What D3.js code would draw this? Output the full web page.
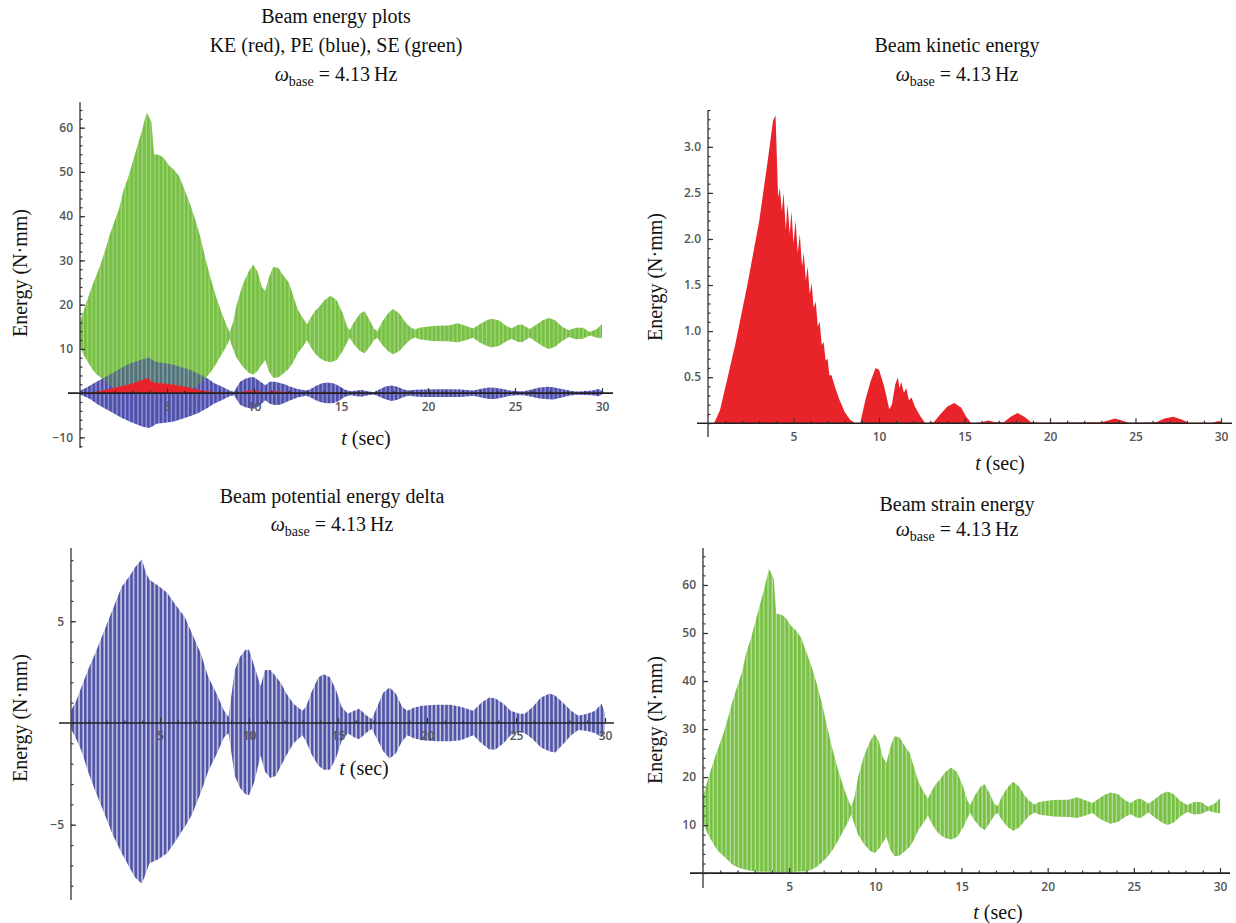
<!DOCTYPE html>
<html>
<head>
<meta charset="utf-8">
<script src="https://cdn.jsdelivr.net/npm/d3@7/dist/d3.min.js"></script>
<style>
body { margin: 0; background: #fff; }
svg text { font-family: "Liberation Serif", "DejaVu Serif", serif; fill: #111; }
.tick text { font-family: "Open Sans", "DejaVu Sans", sans-serif; font-size: 12px; font-weight: 600; fill: #555; }
</style>
</head>
<body>
<div id="chart"></div>
<script>
// strain energy envelope (upper / lower edge of the oscillation band), N.mm
var seTime  = [0, 0.23, 0.46, 0.7, 0.9, 1.2, 1.5, 1.7, 2.0, 2.25, 2.5, 2.75, 3.0, 3.25, 3.55, 3.83, 4.1, 4.25, 4.55, 4.8, 5.1, 5.4, 5.7, 6.0, 6.3, 6.6, 6.9, 7.2, 7.5, 7.8, 8.1, 8.4, 8.6, 8.8, 9.0, 9.35, 9.7, 9.95, 10.2, 10.45, 10.65, 10.85, 11.1, 11.4, 11.7, 12.0, 12.25, 12.5, 12.8, 13.05, 13.25, 13.5, 13.75, 14.05, 14.4, 14.75, 15.1, 15.35, 15.5, 15.75, 16.1, 16.35, 16.65, 16.9, 17.1, 17.35, 17.7, 18.0, 18.35, 18.7, 18.95, 19.25, 19.5, 20.3, 21.2, 21.7, 22.1, 22.6, 22.95, 23.3, 23.65, 24.1, 24.45, 24.8, 25.15, 25.4, 25.85, 26.25, 26.6, 26.95, 27.3, 27.7, 28.1, 28.5, 28.9, 29.3, 29.7, 30.0];
var seUpper = [16.0, 18.8, 21.5, 24.2, 26.2, 29.3, 33, 35.7, 39, 41.7, 45.8, 48.5, 51.8, 55.2, 59.2, 63.4, 61.4, 54, 53.8, 53.2, 51.5, 50.5, 49, 46, 43, 39.5, 35.5, 30.5, 26, 22, 18.5, 15.5, 13.8, 16, 20, 24.5, 27.5, 29, 27.5, 24, 23, 26, 28.5, 28.3, 26.5, 25, 22, 19, 17, 15.5, 17, 18.5, 19.5, 21, 22, 21, 18, 15, 14.2, 16, 18, 18.5, 16.5, 14.5, 14, 16, 18, 19, 18, 16, 15, 14.3, 14.8, 15.2, 15.3, 15.8, 15.3, 14.6, 15.5, 16.3, 16.8, 16.4, 15.3, 14.6, 15.4, 15.5, 14.5, 15.5, 16.5, 17, 16.5, 15, 14.2, 14.8, 14.8, 13.8, 14.5, 15.6];
var seLower = [10.5, 8.5, 7.0, 5.5, 4.5, 3.5, 2.5, 1.8, 1.2, 0.9, 0.7, 0.5, 0.4, 0.3, 0.3, 0.3, 0.3, 0.2, 0.2, 0.2, 0.2, 0.3, 0.35, 0.4, 0.7, 1.3, 2.2, 3.3, 4.7, 6.5, 8.5, 10.5, 12.2, 10, 8, 6, 4.6, 4.2, 5, 6.5, 7.5, 5, 3.5, 3.6, 4.5, 5.5, 7, 9, 10.5, 12, 10.5, 9, 8, 7.3, 7, 7.5, 9.5, 11.5, 12.5, 11, 9.5, 9, 10.5, 12, 12.5, 11, 9.5, 8.8, 9.5, 11, 12, 12.6, 12.2, 11.8, 11.7, 11.5, 11.9, 12.5, 11.5, 10.8, 10.3, 10.7, 11.6, 12.3, 11.6, 11.5, 12.6, 11.5, 10.6, 10, 10.5, 11.8, 12.7, 12.2, 12.3, 13, 12.6, 12.4];

// potential energy delta envelope, N.mm
var peTime  = [0, 0.3, 0.6, 1.0, 1.35, 1.85, 2.35, 2.85, 3.35, 3.6, 3.98, 4.2, 4.4, 4.9, 5.4, 5.8, 6.4, 6.8, 7.3, 7.7, 8.2, 8.6, 8.85, 9.2, 9.5, 9.8, 10.0, 10.3, 10.65, 10.9, 11.2, 11.5, 11.8, 12.1, 12.5, 13.0, 13.2, 13.55, 13.9, 14.2, 14.55, 14.9, 15.2, 15.55, 15.9, 16.2, 16.55, 16.9, 17.2, 17.55, 17.9, 18.25, 18.6, 18.9, 19.25, 19.7, 20.5, 21.3, 21.9, 22.6, 23.05, 23.5, 23.85, 24.3, 24.7, 25.2, 25.5, 25.95, 26.4, 26.9, 27.2, 27.7, 28.1, 28.5, 29.0, 29.45, 29.8, 30.0];
var peUpper = [0.6, 1.1, 1.8, 2.7, 3.4, 4.5, 5.6, 6.7, 7.3, 7.65, 8.05, 7.4, 7.05, 6.75, 6.4, 5.9, 5.2, 4.4, 3.4, 2.3, 1.4, 0.6, 0.3, 2.6, 3.25, 3.6, 3.6, 2.8, 1.8, 2.6, 2.6, 2.3, 1.95, 1.45, 0.95, 0.6, 0.8, 1.6, 2.25, 2.4, 2.25, 1.6, 0.8, 0.45, 0.6, 0.7, 0.4, 0.2, 0.8, 1.5, 1.75, 1.45, 0.8, 0.6, 0.75, 0.85, 0.9, 0.9, 0.8, 0.6, 1.0, 1.25, 1.2, 0.95, 0.6, 0.45, 0.45, 0.8, 1.25, 1.45, 1.35, 0.95, 0.6, 0.35, 0.45, 0.6, 0.95, 0.5];
var peLower = [-0.3, -0.8, -1.4, -2.5, -3.3, -4.4, -5.5, -6.4, -7.2, -7.6, -7.9, -7.4, -6.9, -6.7, -6.4, -5.9, -5.1, -4.5, -3.4, -2.4, -1.5, -0.7, -0.5, -2.6, -3.2, -3.5, -3.55, -2.9, -1.6, -2.4, -2.7, -2.6, -2.1, -1.6, -1.0, -0.6, -0.9, -1.6, -2.1, -2.3, -2.3, -1.7, -0.9, -0.5, -0.7, -0.8, -0.5, -0.3, -0.8, -1.4, -1.75, -1.5, -0.9, -0.6, -0.75, -0.85, -0.9, -0.9, -0.85, -0.6, -1.0, -1.3, -1.3, -1.0, -0.6, -0.45, -0.5, -0.8, -1.2, -1.4, -1.45, -1.0, -0.6, -0.35, -0.4, -0.5, -0.7, -0.3];

// kinetic energy (top edge of the filled region), N.mm
var keTime  = [0, 0.35, 0.7, 1.15, 1.6, 2.3, 3.0, 3.5, 3.8, 3.95, 4.1, 4.2, 4.32, 4.42, 4.55, 4.65, 4.78, 4.88, 5.0, 5.12, 5.25, 5.37, 5.5, 5.6, 5.72, 5.83, 5.95, 6.06, 6.18, 6.3, 6.42, 6.53, 6.65, 6.76, 6.88, 6.99, 7.1, 7.22, 7.45, 7.7, 8.0, 8.3, 8.6, 8.9, 9.2, 9.5, 9.8, 10.0, 10.3, 10.6, 10.75, 10.95, 11.1, 11.2, 11.3, 11.45, 11.6, 11.75, 11.9, 12.1, 12.4, 12.7, 13.2, 13.6, 14.0, 14.4, 14.8, 15.1, 15.4, 16.0, 16.4, 16.8, 17.3, 17.7, 18.1, 18.5, 18.9, 19.5, 23.0, 23.4, 23.8, 24.2, 24.6, 26.2, 26.7, 27.2, 27.7, 28.1, 29.5, 29.8, 30.0];
var keValue = [0, 0, 0.14, 0.5, 0.86, 1.5, 2.2, 2.86, 3.28, 3.34, 2.45, 2.55, 2.3, 2.5, 2.1, 2.38, 2.05, 2.3, 1.95, 2.2, 1.85, 2.05, 1.7, 1.85, 1.55, 1.7, 1.4, 1.52, 1.25, 1.32, 1.05, 1.1, 0.85, 0.88, 0.68, 0.7, 0.52, 0.52, 0.38, 0.25, 0.12, 0.04, 0, 0, 0.25, 0.45, 0.6, 0.58, 0.4, 0.15, 0.2, 0.42, 0.5, 0.38, 0.45, 0.33, 0.38, 0.25, 0.28, 0.18, 0.08, 0, 0.01, 0.1, 0.18, 0.22, 0.17, 0.07, 0, 0.01, 0.03, 0.01, 0.01, 0.07, 0.11, 0.07, 0.01, 0.005, 0.01, 0.03, 0.05, 0.03, 0.005, 0.01, 0.05, 0.07, 0.04, 0.005, 0.005, 0.02, 0.02];

var tTicks = [5, 10, 15, 20, 25, 30];
var tMinor = [1, 2, 3, 4, 6, 7, 8, 9, 11, 12, 13, 14, 16, 17, 18, 19, 21, 22, 23, 24, 26, 27, 28, 29];
var energyTicks = [-10, 10, 20, 30, 40, 50, 60];
var strainTicks = [10, 20, 30, 40, 50, 60];
var keTicks = [0.5, 1.0, 1.5, 2.0, 2.5, 3.0];
var peTicks = [-5, 5];

var seRows = seTime.map(function(t, i) { return {t: t, hi: seUpper[i], lo: seLower[i]}; });
var peRows = peTime.map(function(t, i) { return {t: t, hi: peUpper[i], lo: peLower[i]}; });
var keRows = keTime.map(function(t, i) { return {t: t, hi: keValue[i], lo: 0}; });

var svg = d3.select("#chart").append("svg")
    .attr("width", 1236)
    .attr("height", 923);

var defs = svg.append("defs");

// dense oscillation drawn as a vertical stripe texture inside the envelope
function stripes(id, color, gap, sw) {
  var p = defs.append("pattern")
      .attr("id", id)
      .attr("patternUnits", "userSpaceOnUse")
      .attr("width", 4.2)
      .attr("height", 10);
  p.append("rect").attr("width", 4.2).attr("height", 10).attr("fill", gap);
  p.append("rect").attr("width", sw).attr("height", 10).attr("fill", color);
}
stripes("green", "#79c144", "#b9df9f", 3.0);
stripes("blue", "#5256a7", "#c7c8e6", 2.7);
stripes("blue1", "#3a3ba4", "#8587c9", 2.8);

var panels = [
  {title: ["Beam energy plots", "KE (red), PE (blue), SE (green)"], tx: 336, ty: [23, 52, 81],
   xr: [80, 602], yd: [-12.4, 65.8], yr: [448, 102], xl: [68, 613],
   major: energyTicks, minor: d3.range(-12, 66, 2), fmt: d3.format("d"),
   ylab: [20, 273], tlab: [366, 445], layers: ["se", "pe1", "se1", "ke"]},
  {title: ["Beam kinetic energy"], tx: 957, ty: [52, 81],
   xr: [708, 1221], yd: [-0.15, 3.40], yr: [437, 110], xl: [697, 1232],
   major: keTicks, minor: d3.range(0, 3.41, 0.1), fmt: d3.format(".1f"),
   ylab: [655, 277], tlab: [1000, 470], layers: ["ke"]},
  {title: ["Beam potential energy delta"], tx: 332, ty: [503, 531],
   xr: [71, 605], yd: [-8.7, 8.6], yr: [900, 548], xl: [59, 614],
   major: peTicks, minor: d3.range(-8, 9, 1), fmt: d3.format("d"),
   ylab: [20, 718], tlab: [364, 775], layers: ["pe"]},
  {title: ["Beam strain energy"], tx: 957, ty: [511, 536],
   xr: [703, 1220], yd: [-3.1, 67.7], yr: [888, 548], xl: [690, 1230],
   major: strainTicks, minor: d3.range(0, 68, 2), fmt: d3.format("d"),
   ylab: [655, 720], tlab: [998, 919], layers: ["se"]}
];

var minus = function(f) { return function(d) { return f(d).replace("-", "\u2212"); }; };

panels.forEach(function(p) {
  var g = svg.append("g");
  var x = d3.scaleLinear().domain([0, 30]).range(p.xr);
  var y = d3.scaleLinear().domain(p.yd).range(p.yr);

  var band = d3.area()
      .x(function(d) { return x(d.t); })
      .y0(function(d) { return y(d.lo); })
      .y1(function(d) { return y(d.hi); });

  p.layers.forEach(function(l) {
    if (l == "se") {
      g.append("path").datum(seRows).attr("d", band).attr("fill", "url(#green)");
    } else if (l == "se1") {
      // green showing through the translucent blue
      g.append("path").datum(seRows).attr("d", band).attr("fill", "#79c144")
          .attr("opacity", 0.35);
    } else if (l == "pe") {
      g.append("path").datum(peRows).attr("d", band).attr("fill", "url(#blue)");
    } else if (l == "pe1") {
      g.append("path").datum(peRows).attr("d", band).attr("fill", "url(#blue1)")
          .attr("opacity", 0.9);
    } else if (l == "ke") {
      g.append("path").datum(keRows).attr("d", band).attr("fill", "#e8232a");
    }
  });

  // axes: minor then major ticks, pointing inward
  var y0 = y(0), x0 = x(0);
  var ax = g.append("g").attr("transform", "translate(0," + y0 + ")");
  ax.call(d3.axisBottom(x).tickValues(tMinor).tickSize(-2.5).tickFormat(""));
  var axM = g.append("g").attr("transform", "translate(0," + y0 + ")");
  axM.call(d3.axisBottom(x).tickValues(tTicks).tickSizeInner(-5).tickSizeOuter(0).tickPadding(9));
  var ay = g.append("g").attr("transform", "translate(" + x0 + ",0)");
  ay.call(d3.axisLeft(y).tickValues(p.minor).tickSize(-2.5).tickFormat(""));
  var ayM = g.append("g").attr("transform", "translate(" + x0 + ",0)");
  ayM.call(d3.axisLeft(y).tickValues(p.major).tickSizeInner(-5).tickSizeOuter(0).tickPadding(7)
      .tickFormat(minus(p.fmt)));
  g.selectAll(".domain").remove();
  g.selectAll(".tick line").attr("stroke", "#333").attr("stroke-width", 1.2);

  g.append("line")
      .attr("x1", p.xl[0]).attr("x2", p.xl[1])
      .attr("y1", y0).attr("y2", y0)
      .attr("stroke", "#222").attr("stroke-width", 1.6);
  g.append("line")
      .attr("x1", x0).attr("x2", x0)
      .attr("y1", p.yr[1]).attr("y2", p.yr[0])
      .attr("stroke", "#333").attr("stroke-width", 1.3);

  // titles
  p.title.forEach(function(s, i) {
    g.append("text").attr("x", p.tx).attr("y", p.ty[i])
        .attr("text-anchor", "middle").attr("font-size", 20).text(s);
  });
  var w = g.append("text").attr("x", p.tx).attr("y", p.ty[p.ty.length - 1])
      .attr("text-anchor", "middle").attr("font-size", 20);
  w.append("tspan").attr("font-style", "italic").text("\u03c9");
  w.append("tspan").attr("font-size", 14).attr("dy", 5).text("base");
  w.append("tspan").attr("dy", -5).text(" = 4.13\u2009Hz");

  // axis labels
  g.append("text")
      .attr("transform", "translate(" + p.ylab[0] + "," + p.ylab[1] + ") rotate(-90)")
      .attr("text-anchor", "middle").attr("dy", "0.35em").attr("font-size", 20)
      .text("Energy (N\u00b7mm)");
  var tl = g.append("text").attr("x", p.tlab[0]).attr("y", p.tlab[1])
      .attr("text-anchor", "middle").attr("font-size", 20);
  tl.append("tspan").attr("font-style", "italic").text("t");
  tl.append("tspan").text(" (sec)");
});
</script>
</body>
</html>
